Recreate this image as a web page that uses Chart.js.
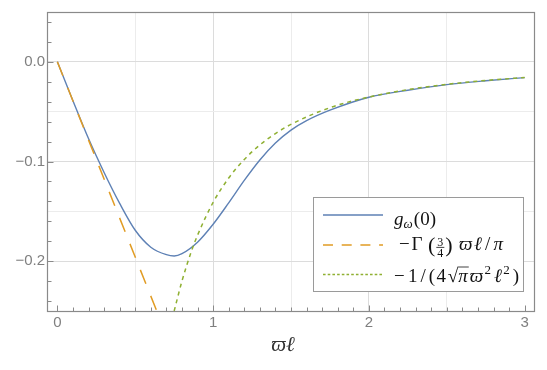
<!DOCTYPE html>
<html><head><meta charset="utf-8">
<script src="https://cdn.jsdelivr.net/npm/chart.js@4/dist/chart.umd.min.js"></script>
<style>html,body{margin:0;padding:0;background:#fff}#wrap{width:547px;height:370px;position:relative}</style>
</head><body><div id="wrap"><canvas id="c" width="547" height="370"></canvas></div>
<script>
// ---- data ----
const gX = [0, 0.1, 0.2, 0.3, 0.4, 0.5, 0.6, 0.7, 0.75, 0.8, 0.9, 1.0, 1.1, 1.2, 1.3, 1.4, 1.5, 1.6, 1.75, 2.0, 2.25, 2.5, 2.75, 3.0];
const gY = [0, -0.039, -0.077, -0.111, -0.142, -0.169, -0.186, -0.1935, -0.1948, -0.1925, -0.181, -0.163, -0.1415, -0.119, -0.0985, -0.0815, -0.0685, -0.059, -0.0485, -0.0355, -0.0285, -0.0229, -0.019, -0.0158];
const linX = [0, 0.638];
const linY = [0, -0.25];
const asyX = [0.75, 0.8, 0.863, 0.9, 1.0, 1.1, 1.2, 1.3, 1.4, 1.5, 1.75, 2.0, 2.25, 2.5, 2.75, 3.0];
const asyY = [-0.25, -0.22, -0.189, -0.174, -0.141, -0.1166, -0.098, -0.0834, -0.072, -0.0627, -0.046, -0.0353, -0.0279, -0.0226, -0.0187, -0.0157];
const xTickLabels = [0, 1, 2, 3];
const yTickLabels = [0.0, -0.1, -0.2];
const xGridVals = [0, 0.5, 1, 1.5, 2, 2.5, 3];
const yGridVals = [-0.25, -0.2, -0.15, -0.1, -0.05, 0, 0.05];

const BLUE = '#5E81B5', ORANGE = '#E19C24', GREEN = '#8FB032';
const FRAME = '#8a8a8a', GRID_MAJ = '#dcdcdc', GRID_MIN = '#ececec', TICKTXT = '#7f7f7f';
const SERIF = '"Liberation Serif","DejaVu Serif",serif';
const near = (a, b) => Math.abs(a - b) < 1e-9;
const pts = (xs, ys) => xs.map((x, i) => ({x, y: ys[i]}));

const decor = {
  id: 'decor',
  afterDraw(chart) {
    const ctx = chart.ctx, a = chart.chartArea, xs = chart.scales.x, ys = chart.scales.y;
    ctx.save();
    // frame
    ctx.strokeStyle = FRAME; ctx.lineWidth = 1.2;
    ctx.strokeRect(a.left - 0.5, a.top + 0.5, a.right - a.left + 1, a.bottom - a.top);
    // inside ticks
    ctx.lineWidth = 1;
    for (let i = 0; i <= 30; i++) {
      const v = i / 10, px = Math.round(xs.getPixelForValue(v)) + 0.5;
      const len = (i % 10 === 0) ? 5.5 : 3.5;
      ctx.beginPath(); ctx.moveTo(px, a.bottom); ctx.lineTo(px, a.bottom - len); ctx.stroke();
    }
    for (let i = -12; i <= 2; i++) {
      const v = i / 50, py = Math.round(ys.getPixelForValue(v)) + 0.5;
      const len = (i % 5 === 0) ? 5.5 : 3.5;
      ctx.beginPath(); ctx.moveTo(a.left, py); ctx.lineTo(a.left + len, py); ctx.stroke();
    }
    // axis title
    ctx.fillStyle = '#333';
    ctx.font = 'italic 21px ' + SERIF;
    ctx.textBaseline = 'alphabetic'; ctx.textAlign = 'center';
    ctx.fillText('ϖℓ', (a.left + a.right) / 2 - 8, 351);
    ctx.textAlign = 'left';

    // legend
    const L = 313, T = 197, W = 210, H = 94;
    ctx.fillStyle = '#fff'; ctx.fillRect(L, T, W, H);
    ctx.strokeStyle = '#9a9a9a'; ctx.lineWidth = 1;
    ctx.strokeRect(L + 0.5, T + 0.5, W, H);
    const ds = chart.data.datasets;
    const rows = [215, 245, 274.5];
    const legDash = [[], [10, 8.7], [2.6, 2.1]];
    rows.forEach((ry, i) => {
      ctx.strokeStyle = ds[i].borderColor; ctx.lineWidth = 1.5;
      ctx.setLineDash(legDash[i]);
      ctx.beginPath(); ctx.moveTo(323, ry); ctx.lineTo(383, ry); ctx.stroke();
    });
    ctx.setLineDash([]);
    const INK = '#111';
    ctx.fillStyle = INK; ctx.strokeStyle = INK;
    const FS = 19;
    const I = 'italic ' + FS + 'px ' + SERIF, R = FS + 'px ' + SERIF;
    const Is = 'italic 13px ' + SERIF, Rs = '13px ' + SERIF, Rf = '12px ' + SERIF;
    function partWidth(p) {
      if (p.frac) { ctx.font = Rf; return Math.max(ctx.measureText(p.frac[0]).width, ctx.measureText(p.frac[1]).width) + 2; }
      if (p.sqrt) { ctx.font = R; const s = ctx.measureText('√').width; ctx.font = I; return s + ctx.measureText(p.sqrt).width; }
      ctx.font = p.f; return ctx.measureText(p.t).width;
    }
    function rich(x, y, target, parts) {
      const ws = parts.map(partWidth);
      const tot = ws.reduce((s, w) => s + w, 0);
      const wsum = parts.slice(0, -1).reduce((s, p) => s + (p.w == null ? 1 : p.w), 0);
      const unit = wsum > 0 ? Math.max(0, (target - tot) / wsum) : 0;
      parts.forEach((p, k) => {
        if (p.frac) {
          ctx.font = Rf; ctx.textAlign = 'center';
          ctx.fillText(p.frac[0], x + ws[k] / 2, y - 4);
          ctx.fillText(p.frac[1], x + ws[k] / 2, y + 6.5);
          ctx.textAlign = 'left';
          ctx.lineWidth = 0.8;
          ctx.beginPath(); ctx.moveTo(x, y - 2.6); ctx.lineTo(x + ws[k], y - 2.6); ctx.stroke();
        } else if (p.sqrt) {
          ctx.font = R; ctx.fillText('√', x, y);
          const sw = ctx.measureText('√').width;
          ctx.font = I;
          ctx.lineWidth = 0.8;
          ctx.beginPath(); ctx.moveTo(x + sw - 0.8, y - 14.5); ctx.lineTo(x + ws[k] + 1, y - 14.5); ctx.stroke();
          ctx.fillText(p.sqrt, x + sw, y);
        } else {
          ctx.font = p.f; ctx.fillText(p.t, x, y + (p.dy || 0));
        }
        x += ws[k] + unit * (p.w == null ? 1 : p.w);
      });
    }
    rich(394, 225, 42, [{t: 'g', f: I, w: 0}, {t: 'ω', f: Is, dy: 2.5, w: 1}, {t: '(0)', f: R}]);
    rich(399, 250, 104, [{t: '−', f: R, w: 0.5}, {t: 'Γ', f: R, w: 1.6}, {t: '(', f: '22px ' + SERIF, dy: 2, w: 0.3}, {frac: ['3', '4'], w: 0.3}, {t: ')', f: '22px ' + SERIF, dy: 2, w: 1.8}, {t: 'ϖ', f: I, w: 0.5}, {t: 'ℓ', f: I, w: 0.9}, {t: '/', f: R, w: 0.9}, {t: 'π', f: I}]);
    rich(394, 281.5, 125, [{t: '−', f: R, w: 0.7}, {t: '1', f: R, w: 0.6}, {t: '/', f: R, w: 0.6}, {t: '(', f: R, w: 0.3}, {t: '4', f: R, w: 0.4}, {sqrt: 'π', w: 0.4}, {t: 'ϖ', f: I, w: 0.3}, {t: '2', f: Rs, dy: -7.5, w: 0.6}, {t: 'ℓ', f: I, w: 0.3}, {t: '2', f: Rs, dy: -7.5, w: 0.6}, {t: ')', f: R}]);
    ctx.restore();
  }
};

new Chart(document.getElementById('c'), {
  type: 'scatter',
  data: {
    datasets: [
      {label: 'g_ω(0)', data: pts(gX, gY), showLine: true, borderColor: BLUE, borderWidth: 1.4, pointRadius: 0, cubicInterpolationMode: 'monotone', order: 3},
      {label: '−Γ(3/4)ϖℓ/π', data: pts(linX, linY), showLine: true, borderColor: ORANGE, borderWidth: 1.5, borderDash: [15, 13], pointRadius: 0, order: 2},
      {label: '−1/(4√πϖ²ℓ²)', data: pts(asyX, asyY), showLine: true, borderColor: GREEN, borderWidth: 1.5, borderDash: [4, 4], pointRadius: 0, cubicInterpolationMode: 'monotone', order: 1}
    ]
  },
  options: {
    responsive: false, animation: false, devicePixelRatio: 1,
    layout: {padding: {top: 10, right: 13, left: 0, bottom: 0}},
    plugins: {legend: {display: false}, tooltip: {enabled: false}},
    scales: {
      x: {
        type: 'linear', min: -0.06, max: 3.06,
        afterBuildTicks: s => { s.ticks = xGridVals.map(v => ({value: v})); },
        afterFit: s => { s.height = 59; },
        border: {display: false},
        grid: {drawTicks: false, color: c => {
          const v = c.tick.value;
          if (near(v, 0) || near(v, 3)) return 'rgba(0,0,0,0)';
          return Number.isInteger(Math.round(v * 1e6) / 1e6) ? GRID_MAJ : GRID_MIN;
        }},
        ticks: {padding: 3, color: TICKTXT, font: {family: '"Liberation Sans", Arial, sans-serif', size: 15}, maxRotation: 0, autoSkip: false,
          callback: v => xTickLabels.some(t => near(t, v)) ? String(Math.round(v)) : ''}
      },
      y: {
        type: 'linear', min: -0.25, max: 0.05,
        afterBuildTicks: s => { s.ticks = yGridVals.map(v => ({value: v})); },
        afterFit: s => { s.width = 48; },
        border: {display: false},
        grid: {drawTicks: false, color: c => {
          const v = c.tick.value;
          if (near(v, -0.25) || near(v, 0.05)) return 'rgba(0,0,0,0)';
          return yTickLabels.some(t => near(t, v)) ? GRID_MAJ : GRID_MIN;
        }},
        ticks: {padding: 3, color: TICKTXT, font: {family: '"Liberation Sans", Arial, sans-serif', size: 15}, autoSkip: false,
          callback: v => yTickLabels.some(t => near(t, v)) ? (near(v, 0) ? '0.0' : '−' + Math.abs(v).toFixed(1)) : ''}
      }
    }
  },
  plugins: [decor]
});
</script></body></html>
